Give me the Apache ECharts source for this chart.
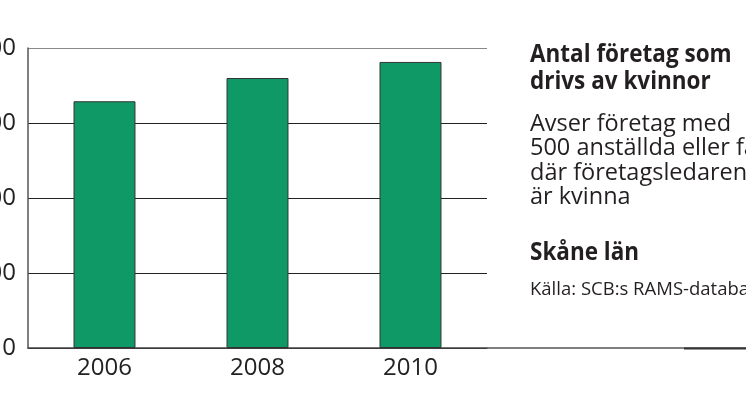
<!DOCTYPE html>
<html>
<head>
<meta charset="utf-8">
<script src="https://cdn.jsdelivr.net/npm/echarts@6/dist/echarts.min.js"></script>
<style>
html,body{margin:0;padding:0;background:#fff;}
#chart{width:746px;height:419px;}
</style>
</head>
<body>
<div id="chart"></div>
<script>
const categories = ['2006', '2008', '2010'];
const values = [16450, 18000, 19070];
const yTicks = [0, 5000, 10000, 15000, 20000];
const titleLines = ['Antal företag som', 'drivs av kvinnor'];
const bodyLines = ['Avser företag med', '500 anställda eller färre', 'där företagsledaren', 'är kvinna'];
const regionText = 'Skåne län';
const sourceText = 'Källa: SCB:s RAMS-databas';

const FONT = '"Open Sans", "Noto Sans", sans-serif';
const chart = echarts.init(document.getElementById('chart'), null, {renderer: 'canvas'});

function fmt(v) {
  return String(v).replace(/\B(?=(\d{3})+(?!\d))/g, ' ');
}

chart.setOption({
  animation: false,
  backgroundColor: '#ffffff',
  grid: {left: 28, right: 259, top: 48, bottom: 71, containLabel: false, outerBoundsMode: 'none'},
  xAxis: {
    type: 'category',
    data: categories,
    axisLine: {show: true, lineStyle: {color: '#444', width: 1.5}},
    axisTick: {show: false},
    axisLabel: {color: '#222', fontFamily: FONT, fontSize: 24, lineHeight: 24, margin: 8}
  },
  yAxis: {
    type: 'value',
    min: yTicks[0],
    max: yTicks[yTicks.length - 1],
    interval: yTicks[1] - yTicks[0],
    axisLine: {show: true, lineStyle: {color: '#555', width: 1.5}},
    axisTick: {show: false},
    splitLine: {show: true, lineStyle: {color: ['#222', '#222', '#222', '#222', '#888'], width: 1.2}},
    axisLabel: {color: '#222', fontFamily: FONT, fontSize: 24, margin: 12, formatter: fmt}
  },
  series: [{
    type: 'bar',
    data: values,
    barWidth: '40.5%',
    itemStyle: {color: '#0f9966', borderColor: '#333', borderWidth: 1}
  }],
  graphic: [
    {type: 'line', shape: {x1: 487, y1: 348, x2: 746, y2: 348}, style: {stroke: '#555', lineWidth: 1.5}, z: 10},
    {type: 'line', shape: {x1: 684, y1: 348.5, x2: 746, y2: 348.5}, style: {stroke: '#333', lineWidth: 2}, z: 11},
    {type: 'text', x: 530, y: 41, scaleX: 0.9, style: {text: titleLines.join('\n'), font: 'bold 25px ' + FONT, lineHeight: 27.5, fill: '#231f20', verticalAlign: 'top'}},
    {type: 'text', x: 530, y: 112, style: {text: bodyLines.join('\n'), font: '23.5px ' + FONT, lineHeight: 24.5, fill: '#231f20', verticalAlign: 'top'}},
    {type: 'text', x: 530, y: 241, scaleX: 0.9, style: {text: regionText, font: 'bold 25px ' + FONT, lineHeight: 24, fill: '#231f20', verticalAlign: 'top'}},
    {type: 'text', x: 530, y: 280, style: {text: sourceText, font: '18.5px ' + FONT, lineHeight: 19, fill: '#231f20', verticalAlign: 'top'}}
  ]
});
</script>
</body>
</html>
